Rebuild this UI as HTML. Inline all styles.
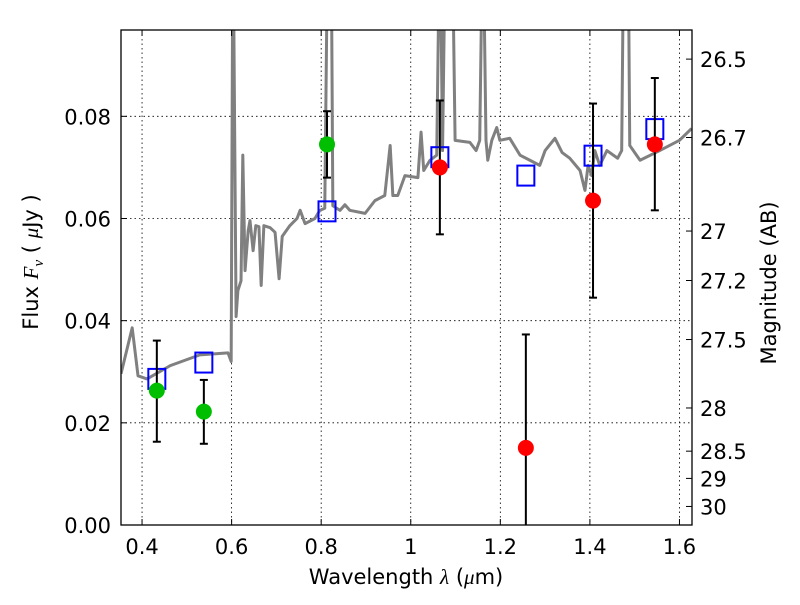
<!DOCTYPE html>
<html><head><meta charset="utf-8"><style>
body{margin:0;background:#fff;}
svg text{font-family:"DejaVu Sans","Liberation Sans",sans-serif;fill:#000;}
</style></head><body>
<svg id="chart" width="800" height="600" xmlns="http://www.w3.org/2000/svg"></svg>
<script>
const specWl=[0.353,0.378,0.391,0.411,0.463,0.529,0.592,0.599,0.603,0.610,0.614,0.621,0.625,0.630,0.637,0.641,0.648,0.654,0.661,0.666,0.672,0.686,0.697,0.706,0.713,0.730,0.746,0.753,0.764,0.786,0.797,0.808,0.815,0.822,0.826,0.842,0.853,0.864,0.898,0.920,0.942,0.954,0.960,0.971,0.987,1.016,1.023,1.029,1.043,1.058,1.065,1.071,1.078,1.092,1.099,1.132,1.146,1.154,1.161,1.168,1.172,1.181,1.192,1.199,1.221,1.244,1.266,1.288,1.300,1.322,1.338,1.355,1.378,1.389,1.396,1.404,1.411,1.422,1.438,1.462,1.471,1.476,1.485,1.489,1.512,1.556,1.600,1.627];
const specFlux=[0.0296,0.0386,0.0292,0.0286,0.0312,0.0333,0.0337,0.0320,0.12,0.0408,0.0459,0.0478,0.0724,0.0498,0.0576,0.0596,0.0537,0.0586,0.0584,0.0469,0.0586,0.0582,0.0573,0.0482,0.0565,0.0586,0.0600,0.0616,0.0590,0.0600,0.0616,0.0620,0.12,0.12,0.0625,0.0616,0.0627,0.0616,0.0610,0.0635,0.0645,0.0743,0.0645,0.0645,0.0684,0.0680,0.0769,0.0694,0.0714,0.0724,0.12,0.0733,0.12,0.12,0.0753,0.0749,0.0733,0.0753,0.12,0.0753,0.0714,0.0753,0.0778,0.0753,0.0757,0.0724,0.0714,0.0704,0.0733,0.0757,0.0729,0.0718,0.0694,0.0655,0.0704,0.0684,0.0733,0.0704,0.0733,0.0718,0.0733,0.12,0.12,0.0743,0.0714,0.0733,0.0753,0.0776];
const modelWl=[0.433,0.538,0.813,1.065,1.257,1.407,1.545];
const modelFlux=[0.0286,0.0318,0.0614,0.0720,0.0684,0.0723,0.0775];
const greenWl=[0.433,0.538,0.813];
const greenFlux=[0.0263,0.0222,0.0745];
const greenLo=[0.0163,0.0159,0.0680];
const greenHi=[0.0361,0.0284,0.0810];
const redWl=[1.065,1.257,1.407,1.545];
const redFlux=[0.0700,0.0151,0.0635,0.0745];
const redLo=[0.0569,-0.02,0.0445,0.0616];
const redHi=[0.0831,0.0373,0.0825,0.0875];
const xTicks=[0.4,0.6,0.8,1.0,1.2,1.4,1.6];
const xTickLabels=["0.4","0.6","0.8","1","1.2","1.4","1.6"];
const yTicks=[0,0.02,0.04,0.06,0.08];
const yTickLabels=["0.00","0.02","0.04","0.06","0.08"];
const magTicks=[26.5,26.7,27,27.2,27.5,28,28.5,29,30];
const magTickLabels=["26.5","26.7","27","27.2","27.5","28","28.5","29","30"];

const L=121,R=692,T=30,B=525;
const X0=0.353,X1=1.628,Y0=0,Y1=0.0969;
const sx=v=>L+(v-X0)/(X1-X0)*(R-L);
const sy=v=>B-(v-Y0)/(Y1-Y0)*(B-T);
const magToFlux=m=>Math.pow(10,(23.9-m)/2.5);
const NS="http://www.w3.org/2000/svg";
const svg=document.getElementById('chart');
function mk(tag,attrs,parent){const e=document.createElementNS(NS,tag);for(const k in attrs)e.setAttribute(k,attrs[k]);(parent||svg).appendChild(e);return e;}

const defs=mk('defs',{});
const cp=mk('clipPath',{id:'clip'},defs);
mk('rect',{x:L,y:T,width:R-L,height:B-T},cp);

const grid=mk('g',{});


xTicks.forEach(v=>{mk('line',{x1:sx(v),x2:sx(v),y1:T,y2:B,stroke:'#000','stroke-width':0.8,'stroke-dasharray':'1.5,3'},grid);});
yTicks.forEach(v=>{mk('line',{x1:L,x2:R,y1:sy(v),y2:sy(v),stroke:'#000','stroke-width':0.8,'stroke-dasharray':'1.5,3'},grid);});

const plot=mk('g',{'clip-path':'url(#clip)'});
const spec=mk('polyline',{points:specWl.map((w,i)=>sx(w)+','+sy(specFlux[i])).join(' '),fill:'none',stroke:'#808080','stroke-width':3,'stroke-linejoin':'round'},plot);



modelWl.forEach((w,i)=>{const r=mk('rect',{x:sx(w)-8.5,y:sy(modelFlux[i])-10,width:17,height:20,fill:'none',stroke:'#0000ff','stroke-width':2},plot);

});

function errPoint(w,f,lo,hi,col,name){
  const g=mk('g',{},plot);
  
  
  const x=sx(w);
  mk('line',{x1:x,x2:x,y1:sy(lo),y2:sy(hi),stroke:'#000','stroke-width':2},g);
  mk('line',{x1:x-4,x2:x+4,y1:sy(lo),y2:sy(lo),stroke:'#000','stroke-width':2},g);
  mk('line',{x1:x-4,x2:x+4,y1:sy(hi),y2:sy(hi),stroke:'#000','stroke-width':2},g);
  mk('circle',{cx:x,cy:sy(f),r:8,fill:col},g);
}
greenWl.forEach((w,i)=>errPoint(w,greenFlux[i],greenLo[i],greenHi[i],'#00bf00','hst-data-point'));
redWl.forEach((w,i)=>errPoint(w,redFlux[i],redLo[i],redHi[i],'#ff0000','ir-data-point'));

const fr=mk('rect',{x:L,y:T,width:R-L,height:B-T,fill:'none',stroke:'#000','stroke-width':1.3});



xTicks.forEach((v,i)=>{const x=sx(v);
  mk('line',{x1:x,x2:x,y1:B,y2:B-6,stroke:'#000'});mk('line',{x1:x,x2:x,y1:T,y2:T+6,stroke:'#000'});
  const t=mk('text',{x:x,y:B+29,'text-anchor':'middle','font-size':21});t.textContent=xTickLabels[i];
  
  });
yTicks.forEach((v,i)=>{const y=sy(v);
  mk('line',{x1:L,x2:L+6,y1:y,y2:y,stroke:'#000'});
  const t=mk('text',{x:L-10,y:y+8,'text-anchor':'end','font-size':21});t.textContent=yTickLabels[i];
  
  });
magTicks.forEach((m,i)=>{const y=sy(magToFlux(m));
  mk('line',{x1:R,x2:R-6,y1:y,y2:y,stroke:'#000'});
  const t=mk('text',{x:R+8,y:y+8,'text-anchor':'start','font-size':21});t.textContent=magTickLabels[i];
  
  });

const xl=mk('text',{x:406,y:584,'text-anchor':'middle','font-size':21});
xl.innerHTML='Wavelength  <tspan font-style="italic" font-family="Liberation Serif,serif">λ</tspan> (<tspan font-style="italic" font-family="Liberation Serif,serif">μ</tspan>m)';


const yl=mk('text',{x:0,y:0,'text-anchor':'middle','font-size':21,transform:'translate(38,262) rotate(-90)'});
yl.innerHTML='Flux  <tspan font-style="italic" font-family="Liberation Serif,serif">F</tspan><tspan font-style="italic" font-family="Liberation Serif,serif" font-size="15" dy="5">ν</tspan><tspan dy="-5">  ( </tspan><tspan font-style="italic" font-family="Liberation Serif,serif">μ</tspan>Jy )';


const ml=mk('text',{x:0,y:0,'text-anchor':'middle','font-size':21,transform:'translate(776,283) rotate(-90)'});
ml.textContent='Magnitude (AB)';


</script>
</body></html>
